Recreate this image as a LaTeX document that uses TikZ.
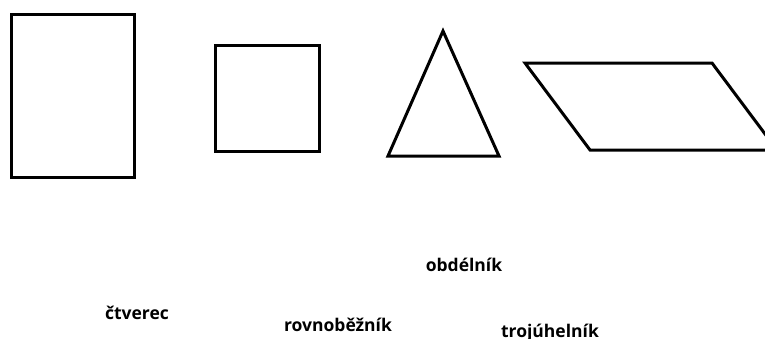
\documentclass[tikz,border=0pt]{standalone}
\usepackage{fontspec}
\setmainfont{Open Sans}
\begin{document}
\begin{tikzpicture}[x=1pt,y=-1pt,
  outline/.style={draw=black,line width=3pt,line join=miter},
  lbl/.style={font=\fontsize{17.5}{20}\selectfont\bfseries,anchor=base,inner sep=0pt}]
\useasboundingbox (0,0) rectangle (765,338);
\clip (0,0) rectangle (765,338);
\fill[white] (0,0) rectangle (765,338);
\draw[outline] (11.5,14.5) rectangle (134.5,177);
\draw[outline] (215.5,45.5) rectangle (319.5,151);
\draw[outline] (443,31) -- (499,156) -- (388,156) -- cycle;
\draw[outline] (525,63) -- (712,63) -- (777,150) -- (590,150) -- cycle;
\node[lbl] (o) at (464,271) {obdélník};
\node[lbl] (c) at (137,319) {čtverec};
\node[lbl] (r) at (338,331) {rovnoběžník};
\node[lbl] (t) at (550,337) {trojúhelník};
\end{tikzpicture}
\end{document}
